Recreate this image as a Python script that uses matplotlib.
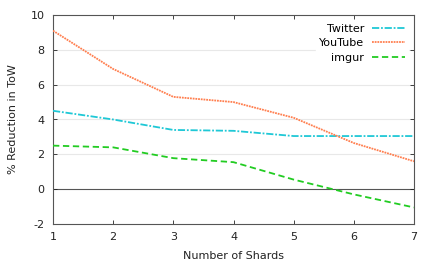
import matplotlib
matplotlib.use("Agg")
import matplotlib.pyplot as plt

shards = [1, 2, 3, 4, 5, 6, 7]
twitter = [4.5, 4.0, 3.4, 3.35, 3.05, 3.05, 3.05]
youtube = [9.1, 6.9, 5.3, 5.0, 4.1, 2.65, 1.6]
imgur = [2.5, 2.4, 1.78, 1.55, 0.55, -0.3, -1.05]

plt.rcParams['font.family'] = ['DejaVu Sans']
plt.rcParams['font.size'] = 8
plt.rcParams['axes.unicode_minus'] = False

fig = plt.figure(figsize=(4.36, 2.62), dpi=100)
ax = fig.add_axes([53 / 436, 1 - 224 / 262, (414 - 53) / 436, (224 - 15) / 262])

# grid lines + zero line
for y in range(-2, 11, 2):
    if y == 0:
        ax.axhline(0, color='#555555', lw=0.8, zorder=1)
    elif -2 < y < 10:
        ax.axhline(y, color='#e8e8e8', lw=0.8, zorder=0)

ax.plot(shards, twitter, color='#1fc8d6', lw=1.3, dashes=(4, 1, 1, 1), label='Twitter', zorder=3)
ax.plot(shards, youtube, color='#ff7f4f', lw=1.3, dashes=(1, 0.5), label='YouTube', zorder=3)
ax.plot(shards, imgur, color='#22cc22', lw=1.3, dashes=(3.5, 2), label='imgur', zorder=3)

ax.set_xlim(1, 7)
ax.set_ylim(-2, 10)
ax.set_xticks(shards)
ax.set_yticks(range(-2, 11, 2))
ax.tick_params(direction='in', length=3, width=0.6, top=True, right=True, colors='#222222')
ax.tick_params(axis='x', pad=6)
ax.tick_params(axis='y', pad=6)
for s in ax.spines.values():
    s.set_color('#555555')
    s.set_linewidth(0.8)

ax.set_xlabel('Number of Shards', color='#222222', labelpad=6)
ax.set_ylabel('% Reduction in ToW', color='#222222', labelpad=9)

leg = ax.legend(loc='upper right', frameon=True, fancybox=False, framealpha=1,
                edgecolor='white', markerfirst=False, handlelength=3.0,
                labelspacing=0.4, borderpad=0.3, handletextpad=0.7, fontsize=8)
leg.set_zorder(2)

fig.savefig('out.png', dpi=100)
